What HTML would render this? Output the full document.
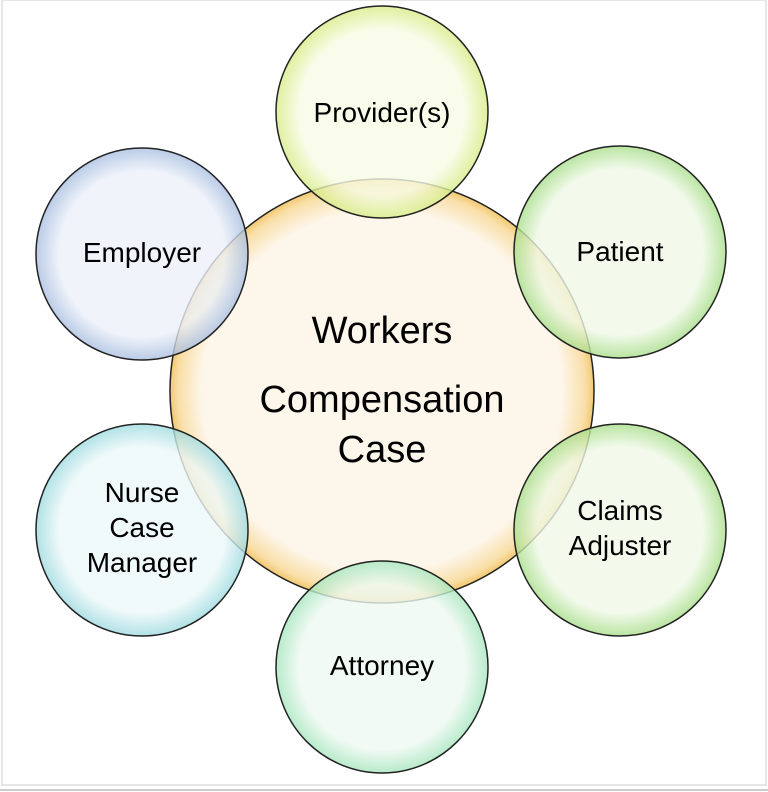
<!DOCTYPE html>
<html><head><style>
html,body{margin:0;padding:0;background:#fff;}
svg{display:block;}
text{font-family:"Liberation Sans",sans-serif;fill:#000;text-anchor:middle;}
</style></head><body>
<svg width="768" height="792" viewBox="0 0 768 792">
<defs>
<radialGradient id="gc" cx="50%" cy="50%" r="50%"><stop offset="85%" stop-color="#fdf6ea"/><stop offset="96%" stop-color="#f9dfa8"/><stop offset="100%" stop-color="#f3c870"/></radialGradient>
<radialGradient id="gy" cx="50%" cy="50%" r="50%"><stop offset="78%" stop-color="#f7fbe4"/><stop offset="100%" stop-color="#d6ec86"/></radialGradient>
<radialGradient id="gg" cx="50%" cy="50%" r="50%"><stop offset="78%" stop-color="#f0f9e8"/><stop offset="100%" stop-color="#a8de8a"/></radialGradient>
<radialGradient id="gm" cx="50%" cy="50%" r="50%"><stop offset="78%" stop-color="#eef9f1"/><stop offset="100%" stop-color="#a6e6be"/></radialGradient>
<radialGradient id="gt" cx="50%" cy="50%" r="50%"><stop offset="78%" stop-color="#edf8f9"/><stop offset="100%" stop-color="#9edbe0"/></radialGradient>
<radialGradient id="gb" cx="50%" cy="50%" r="50%"><stop offset="78%" stop-color="#ecf1f9"/><stop offset="100%" stop-color="#a9bfe0"/></radialGradient>
</defs>
<rect x="2" y="0" width="764" height="785" fill="none" stroke="#ddd" stroke-width="1.5"/>
<line x1="0" y1="790" x2="768" y2="790" stroke="#ccc" stroke-width="2"/>
<circle cx="382" cy="391" r="212" fill="url(#gc)" stroke="#222" stroke-width="1.5"/>
<g opacity="0.8">
<circle cx="382" cy="112" r="106" fill="url(#gy)"/>
<circle cx="620" cy="252" r="106" fill="url(#gg)"/>
<circle cx="620" cy="530" r="106" fill="url(#gg)"/>
<circle cx="382" cy="667" r="106" fill="url(#gm)"/>
<circle cx="142" cy="530" r="106" fill="url(#gt)"/>
<circle cx="142" cy="254" r="106" fill="url(#gb)"/>
</g>
<g fill="none" stroke="#222" stroke-width="1.5">
<circle cx="382" cy="112" r="106"/>
<circle cx="620" cy="252" r="106"/>
<circle cx="620" cy="530" r="106"/>
<circle cx="382" cy="667" r="106"/>
<circle cx="142" cy="530" r="106"/>
<circle cx="142" cy="254" r="106"/>
</g>
<text x="382" y="343" font-size="38">Workers</text>
<text x="382" y="412" font-size="38">Compensation</text>
<text x="382" y="462" font-size="38">Case</text>
<text x="382" y="122" font-size="28">Provider(s)</text>
<text x="620" y="261" font-size="28">Patient</text>
<text x="620" y="520" font-size="28">Claims</text>
<text x="620" y="555" font-size="28">Adjuster</text>
<text x="382" y="675" font-size="28">Attorney</text>
<text x="142" y="502" font-size="28">Nurse</text>
<text x="142" y="537" font-size="28">Case</text>
<text x="142" y="572" font-size="28">Manager</text>
<text x="142" y="262" font-size="28">Employer</text>
</svg>
</body></html>
